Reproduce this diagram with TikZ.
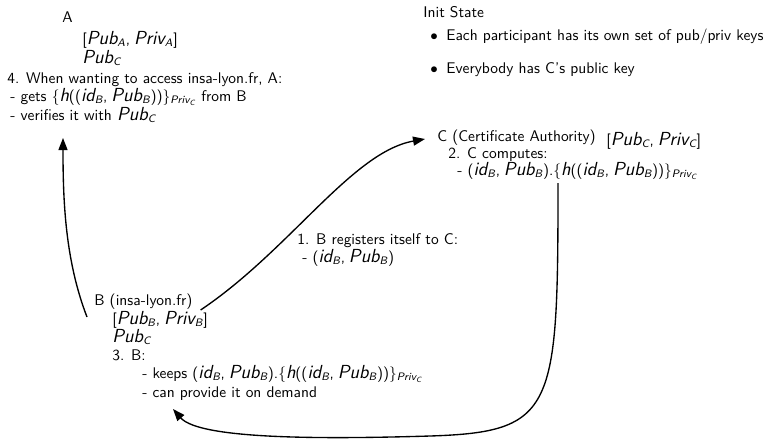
\documentclass[tikz,border=0pt]{standalone}
\usetikzlibrary{arrows.meta}
\renewcommand{\familydefault}{\sfdefault}
% key names and subscripts set in sloped sans
\newcommand{\kv}[1]{{\fontsize{12.6pt}{13pt}\selectfont\itshape #1}}
\newcommand{\ks}[2]{\kv{#1}\textsubscript{\itshape #2}}
\newcommand{\pc}{,\kern0.25em}
\newcommand{\signed}{\{\kv{h}((\ks{id}{B}\pc\ks{Pub}{B}))\}\textsubscript{\itshape Priv\textsubscript{C}}}
\begin{document}
\begin{tikzpicture}[x=0.667pt,y=-0.667pt,
  txt/.style={anchor=base west, inner sep=0pt, font=\fontsize{10.3pt}{12pt}\selectfont},
  flow/.style={line width=0.9pt, -{Triangle[length=8pt,width=6pt]}}]
\useasboundingbox (0,0) rectangle (776,442);

% participant A
\node[txt] (a1) at (62,22) {A};
\node[txt] (a2) at (82,44) {[\ks{Pub}{A}\pc\ks{Priv}{A}]};
\node[txt] (a3) at (82,63) {\ks{Pub}{C}};
\node[txt] (a4) at (7,83) {4. When wanting to access insa-lyon.fr, A:};
\node[txt] (a5) at (10,101) {- gets \signed{} from B};
\node[txt] (a6) at (10,120) {- verifies it with \ks{Pub}{C}};

% initial state
\node[txt] (i1) at (423,17) {Init State};
\node[txt] (i2) at (430,40) {$\bullet$};
\node[txt] (i3) at (446,40) {Each participant has its own set of pub/priv keys};
\node[txt] (i4) at (430,73) {$\bullet$};
\node[txt] (i5) at (446,73) {Everybody has C's public key};

% certificate authority C
\node[txt] (c1) at (437,141) {C (Certificate Authority)};
\node[txt] (c2) at (606,145) {[\ks{Pub}{C}\pc\ks{Priv}{C}]};
\node[txt] (c3) at (448,158) {2. C computes:};
\node[txt] (c4) at (457,175) {- (\ks{id}{B}\pc\ks{Pub}{B}).\signed};

% registration message
\node[txt] (m1) at (297,244) {1. B registers itself to C:};
\node[txt] (m2) at (302,262) {- (\ks{id}{B}\pc\ks{Pub}{B})};

% participant B
\node[txt] (b1) at (94,305) {B (insa-lyon.fr)};
\node[txt] (b2) at (112,324) {[\ks{Pub}{B}\pc\ks{Priv}{B}]};
\node[txt] (b3) at (112,342) {\ks{Pub}{C}};
\node[txt] (b4) at (112,360) {3. B:};
\node[txt] (b5) at (142,378) {- keeps (\ks{id}{B}\pc\ks{Pub}{B}).\signed};
\node[txt] (b6) at (142,397) {- can provide it on demand};

% message flows
\draw[flow] ([shift={(8,5)}]b1.base east)
  .. controls (290,250) and (352,152) .. ([shift={(-12,-2)}]c1.base west);
\draw[flow] ([shift={(101,8)}]c4.base west)
  .. controls (558,410) and (555,432) .. (430,436)
  .. controls (330,439) and (200,440) .. ([shift={(31,12)}]b6.base west);
\draw[flow] ([shift={(-7,12)}]b1.base west)
  .. controls (65,260) and (63,200) .. ([shift={(53,18)}]a6.base west);
\end{tikzpicture}
\end{document}
